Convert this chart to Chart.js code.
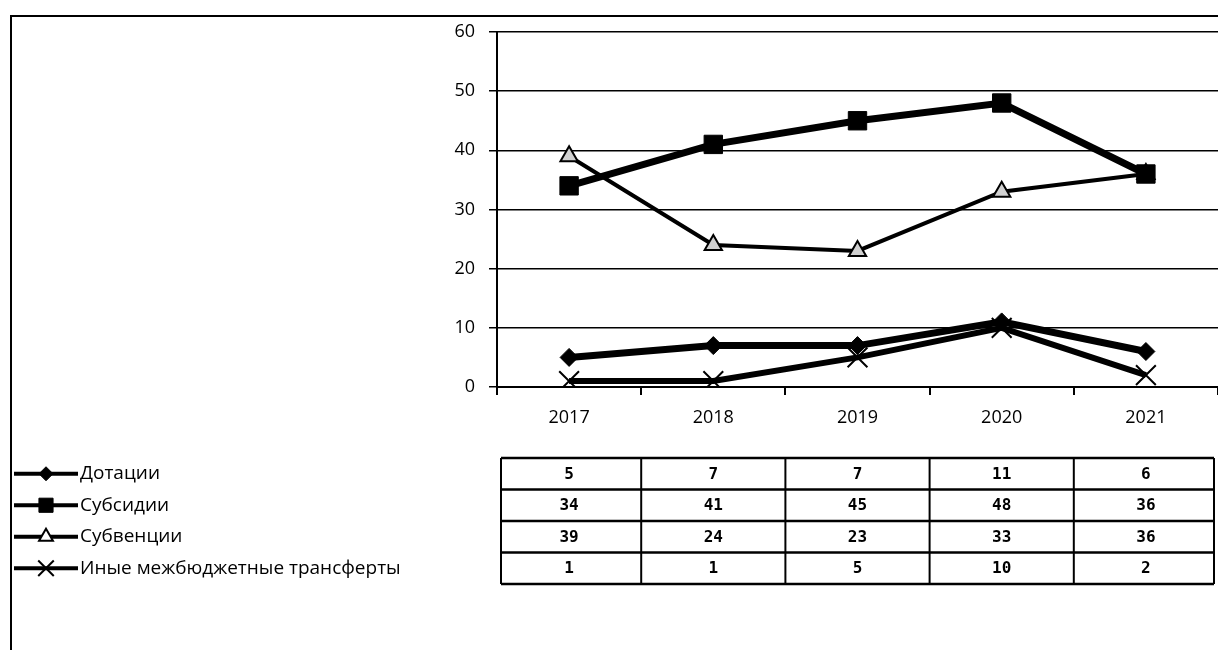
<!DOCTYPE html>
<html>
<head>
<meta charset="utf-8">
<script src="https://cdn.jsdelivr.net/npm/chart.js@4/dist/chart.umd.min.js"></script>
<style>
  html, body { margin: 0; padding: 0; background: #fff; }
  #wrap { width: 1218px; height: 650px; position: relative; }
</style>
</head>
<body>
<div id="wrap"><canvas id="chart" width="1218" height="650"></canvas></div>
<script>
const years = ['2017', '2018', '2019', '2020', '2021'];
const seriesNames = ['Дотации', 'Субсидии', 'Субвенции', 'Иные межбюджетные трансферты'];
const dotacii = [5, 7, 7, 11, 6];
const subsidii = [34, 41, 45, 48, 36];
const subvencii = [39, 24, 23, 33, 36];
const inye = [1, 1, 5, 10, 2];
const yTicks = [0, 10, 20, 30, 40, 50, 60];

const seriesValues = [dotacii, subsidii, subvencii, inye];
const styles = [
    { pointStyle: 'rectRot', radius: 9, lineWidth: 7, bg: '#000', bw: 1, key: 7 },
    { pointStyle: 'rect', radius: 13, lineWidth: 7, bg: '#000', bw: 1, key: 10 },
    { pointStyle: 'triangle', radius: 10, lineWidth: 4, bg: '#d0d0d0', bw: 2, key: 8 },
    { pointStyle: 'crossRot', radius: 14, lineWidth: 6, bg: '#000', bw: 2, key: 11 }
];

// frame, legend and data table under the plot
const tablePlugin = {
    id: 'dataTable',
    afterDraw(chart) {
        const ctx = chart.ctx;
        const x = chart.scales.x;
        ctx.save();

        // outer frame
        ctx.strokeStyle = '#000';
        ctx.lineWidth = 2;
        ctx.beginPath();
        ctx.moveTo(11, 650);
        ctx.lineTo(11, 16);
        ctx.lineTo(1218, 16);
        ctx.stroke();

        const top = 458, rowH = 31.5;
        const w = x.getPixelForValue(1) - x.getPixelForValue(0);
        const left = x.getPixelForValue(0) - w / 2 + 4;
        const right = x.getPixelForValue(years.length - 1) + w / 2 - 4;

        // grid of the table
        ctx.lineWidth = 2.5;
        for (let r = 0; r <= seriesValues.length; r++) {
            ctx.beginPath();
            ctx.moveTo(left, top + r * rowH);
            ctx.lineTo(right, top + r * rowH);
            ctx.stroke();
        }
        ctx.lineWidth = 2;
        for (let c = 0; c <= years.length; c++) {
            const cx = c === 0 ? left : (c === years.length ? right : x.getPixelForValue(c) - w / 2);
            ctx.beginPath();
            ctx.moveTo(cx, top);
            ctx.lineTo(cx, top + seriesValues.length * rowH);
            ctx.stroke();
        }

        // numbers
        ctx.fillStyle = '#000';
        ctx.font = 'bold 16px "DejaVu Sans Mono"';
        ctx.textAlign = 'center';
        ctx.textBaseline = 'middle';
        seriesValues.forEach((vals, r) => {
            vals.forEach((v, c) => {
                ctx.fillText(String(v), x.getPixelForValue(c), top + r * rowH + rowH / 2 + 1);
            });
        });

        // legend keys
        ctx.font = '19px "Open Sans"';
        ctx.textAlign = 'left';
        seriesNames.forEach((name, r) => {
            const cy = top + r * rowH + rowH / 2;
            const st = styles[r];
            ctx.strokeStyle = '#000';
            ctx.lineWidth = 4;
            ctx.beginPath();
            ctx.moveTo(14, cy);
            ctx.lineTo(78, cy);
            ctx.stroke();
            ctx.fillStyle = r === 2 ? '#fff' : st.bg;
            ctx.lineWidth = st.bw;
            Chart.helpers.drawPoint(ctx, { pointStyle: st.pointStyle, radius: st.key, rotation: 0, borderWidth: st.bw }, 46, cy);
            ctx.fillStyle = '#000';
            ctx.fillText(name, 80, cy);
        });

        ctx.restore();
    }
};

const datasets = seriesNames.map((name, i) => ({
    label: name,
    data: seriesValues[i],
    borderColor: '#000',
    borderWidth: styles[i].lineWidth,
    backgroundColor: styles[i].bg,
    pointStyle: styles[i].pointStyle,
    pointRadius: styles[i].radius,
    pointBorderColor: '#000',
    pointBackgroundColor: styles[i].bg,
    pointBorderWidth: styles[i].bw,
    tension: 0,
    fill: false
}));

new Chart(document.getElementById('chart').getContext('2d'), {
    type: 'line',
    data: { labels: years, datasets: datasets },
    options: {
        responsive: false,
        animation: false,
        layout: { autoPadding: false, padding: { left: 0, top: 32, right: 0, bottom: 213 } },
        plugins: {
            legend: { display: false },
            tooltip: { enabled: false }
        },
        scales: {
            x: {
                offset: true,
                grid: { offset: true, drawOnChartArea: false, drawTicks: true, tickLength: 8, color: '#000', lineWidth: 2 },
                border: { color: '#000', width: 2 },
                ticks: { color: '#000', font: { family: 'Open Sans', size: 18 }, padding: 12, maxRotation: 0 },
                afterFit(scale) { scale.height = 50; }
            },
            y: {
                min: 0,
                max: 60,
                afterBuildTicks(scale) { scale.ticks = yTicks.map(v => ({ value: v })); },
                grid: { color: '#000', lineWidth: 1.5, tickLength: 8 },
                border: { color: '#000', width: 2 },
                ticks: { color: '#000', font: { family: 'Open Sans', size: 18 }, padding: 14 },
                afterFit(scale) { scale.width = 497; }
            }
        }
    },
    plugins: [tablePlugin]
});
</script>
</body>
</html>
